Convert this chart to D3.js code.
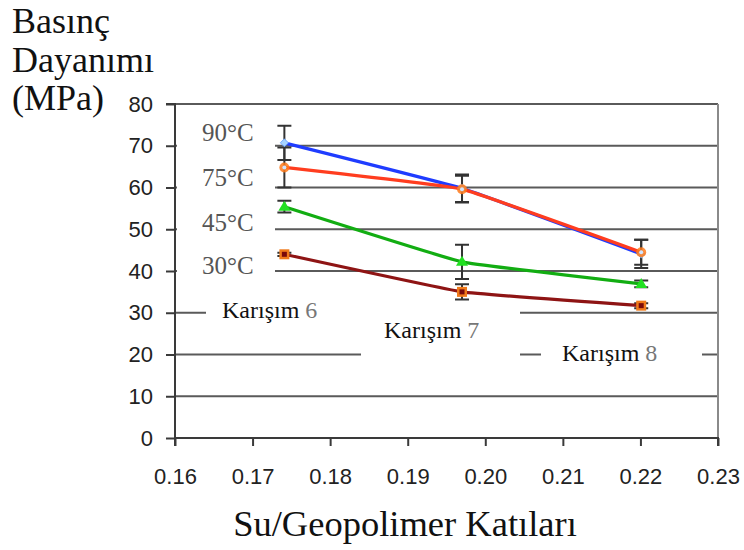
<!DOCTYPE html>
<html>
<head>
<meta charset="utf-8">
<script src="https://cdn.jsdelivr.net/npm/d3@7"></script>
<style>
  body { margin: 0; background: #fff; }
  svg { display: block; }
</style>
</head>
<body>
<svg width="744" height="550"></svg>
<script>
// water / geopolymer solids ratio of each mix
const mixRatio = [0.1741, 0.1970, 0.2201];
const mixLabels = ['Karışım 6', 'Karışım 7', 'Karışım 8'];

const tempLabels = ['90°C', '75°C', '45°C', '30°C'];
const strength90 = [70.7, 59.8, 44.1];
const strength75 = [64.8, 59.6, 44.5];
const strength45 = [55.4, 42.2, 36.9];
const strength30 = [44.0, 35.0, 31.7];
// half length of the error bars
const err90 = [4.1, 3.3, 3.4];
const err75 = [4.8, 3.2, 3.0];
const err45 = [1.4, 4.1, 0.8];
const err30 = [0.4, 1.8, 0.6];

const xTicks = [0.16, 0.17, 0.18, 0.19, 0.20, 0.21, 0.22, 0.23];
const yTicks = [0, 10, 20, 30, 40, 50, 60, 70, 80];

const series = [
  { name: tempLabels[0], values: strength90, err: err90, color: '#1f3cff', marker: 'diamond' },
  { name: tempLabels[1], values: strength75, err: err75, color: '#ff3d1f', marker: 'circle' },
  { name: tempLabels[2], values: strength45, err: err45, color: '#12ad12', marker: 'triangle' },
  { name: tempLabels[3], values: strength30, err: err30, color: '#8e1414', marker: 'square' }
];

const svg = d3.select('svg');
const x = d3.scaleLinear().domain([0.16, 0.23]).range([175, 718]);
const y = d3.scaleLinear().domain([0, 80]).range([438, 104]);

const serif = 'Liberation Serif, Times New Roman, serif';
const sans = 'Liberation Sans, Arial, sans-serif';

// gridlines
svg.append('g')
  .selectAll('line')
  .data(yTicks.filter(d => d > 0))
  .enter().append('line')
  .attr('x1', x(0.16)).attr('x2', x(0.23))
  .attr('y1', d => y(d)).attr('y2', d => y(d))
  .attr('stroke', '#5a5a5a')
  .attr('stroke-width', 2);

// right border
svg.append('line')
  .attr('x1', x(0.23)).attr('x2', x(0.23))
  .attr('y1', y(80)).attr('y2', y(0))
  .attr('stroke', '#8a8a8a')
  .attr('stroke-width', 2);

// white patches behind the annotations (they cut the gridlines)
const patches = [
  [177, 112, 98, 175],
  [206, 303, 314, 20],
  [361, 345, 159, 20],
  [541, 345, 161, 20]
];
svg.append('g')
  .selectAll('rect')
  .data(patches)
  .enter().append('rect')
  .attr('x', d => d[0]).attr('y', d => d[1])
  .attr('width', d => d[2]).attr('height', d => d[3])
  .attr('fill', '#fff');

// axes
const yAxis = svg.append('g')
  .attr('transform', `translate(${x(0.16)},0)`)
  .call(d3.axisLeft(y).tickValues(yTicks).tickSize(9).tickPadding(13).tickFormat(d3.format('d')));
const xAxis = svg.append('g')
  .attr('transform', `translate(0,${y(0)})`)
  .call(d3.axisBottom(x).tickValues(xTicks).tickSize(8).tickPadding(22).tickFormat(d3.format('.2f')));

[yAxis, xAxis].forEach(g => {
  g.select('.domain').attr('stroke', '#3a3a3a').attr('stroke-width', 2);
  g.selectAll('.tick line').attr('stroke', '#3a3a3a').attr('stroke-width', 2);
  g.selectAll('.tick text')
    .attr('fill', '#222')
    .style('font-family', sans)
    .style('font-size', '22px');
});
xAxis.select('.domain').attr('d', `M${x(0.16)},8V0H${x(0.23)}V8`);
yAxis.select('.domain').attr('d', `M-9,${y(80)}H0V${y(0)}`);

// error bars
const errData = [];
series.forEach(s => s.values.forEach((v, i) => {
  errData.push({ x: mixRatio[i], lo: v - s.err[i], hi: v + s.err[i] });
}));
const eb = svg.append('g').attr('stroke', '#333').attr('stroke-width', 2).attr('fill', 'none');
eb.selectAll('path')
  .data(errData)
  .enter().append('path')
  .attr('d', d => {
    const cx = x(d.x), y1 = y(d.hi), y2 = y(d.lo);
    return `M${cx - 7},${y1}H${cx + 7}M${cx},${y1}V${y2}M${cx - 7},${y2}H${cx + 7}`;
  });

// lines (only lightly smoothed)
const line = d3.line()
  .x((d, i) => x(mixRatio[i]))
  .y(d => y(d))
  .curve(d3.curveCardinal.tension(0.75));

svg.append('g')
  .selectAll('path')
  .data(series)
  .enter().append('path')
  .attr('d', d => line(d.values))
  .attr('fill', 'none')
  .attr('stroke', d => d.color)
  .attr('stroke-width', 3.2);

// markers
series.forEach(s => {
  const g = svg.append('g');
  s.values.forEach((v, i) => {
    const cx = x(mixRatio[i]), cy = y(v);
    if (s.marker === 'diamond') {
      g.append('path').attr('d', `M${cx},${cy - 4}L${cx + 4},${cy}L${cx},${cy + 4}L${cx - 4},${cy}Z`)
        .attr('fill', '#a8d4ff').attr('stroke', '#6fa8ff');
    } else if (s.marker === 'circle') {
      g.append('circle').attr('cx', cx).attr('cy', cy).attr('r', 5)
        .attr('fill', '#ff7a1a').attr('fill-opacity', 0.85);
      g.append('circle').attr('cx', cx).attr('cy', cy).attr('r', 2)
        .attr('fill', '#cfe4ff');
    } else if (s.marker === 'triangle') {
      g.append('path').attr('d', `M${cx},${cy - 6}L${cx + 6},${cy + 4}L${cx - 6},${cy + 4}Z`)
        .attr('fill', '#22e022');
    } else {
      g.append('rect').attr('x', cx - 5).attr('y', cy - 5).attr('width', 10).attr('height', 10)
        .attr('fill', '#f07a1a');
      g.append('rect').attr('x', cx - 2.5).attr('y', cy - 2.5).attr('width', 5).attr('height', 5)
        .attr('fill', '#7a0a0a');
    }
  });
});

// temperature labels
const tempY = [141, 186, 231, 274];
svg.append('g')
  .selectAll('text')
  .data(tempLabels)
  .enter().append('text')
  .attr('x', 202)
  .attr('y', (d, i) => tempY[i])
  .attr('fill', '#555')
  .style('font-family', serif)
  .style('font-size', '25px')
  .text(d => d);

// mix labels
const mixPos = [[222, 318], [384, 338], [562, 361]];
mixLabels.forEach((m, i) => {
  const parts = m.split(' ');
  const t = svg.append('text')
    .attr('x', mixPos[i][0]).attr('y', mixPos[i][1])
    .style('font-family', serif)
    .style('font-size', '24px');
  t.append('tspan').attr('fill', '#111').text(parts[0] + ' ');
  t.append('tspan').attr('fill', '#777').text(parts[1]);
});

// axis titles
const yTitle = ['Basınç', 'Dayanımı', '(MPa)'];
svg.append('g')
  .selectAll('text')
  .data(yTitle)
  .enter().append('text')
  .attr('x', 12)
  .attr('y', (d, i) => [33, 72, 110][i])
  .attr('fill', '#111')
  .style('font-family', serif)
  .style('font-size', '36px')
  .text(d => d);

svg.append('text')
  .attr('x', 405).attr('y', 536)
  .attr('text-anchor', 'middle')
  .attr('fill', '#111')
  .style('font-family', serif)
  .style('font-size', '36.5px')
  .text('Su/Geopolimer Katıları');
</script>
</body>
</html>
